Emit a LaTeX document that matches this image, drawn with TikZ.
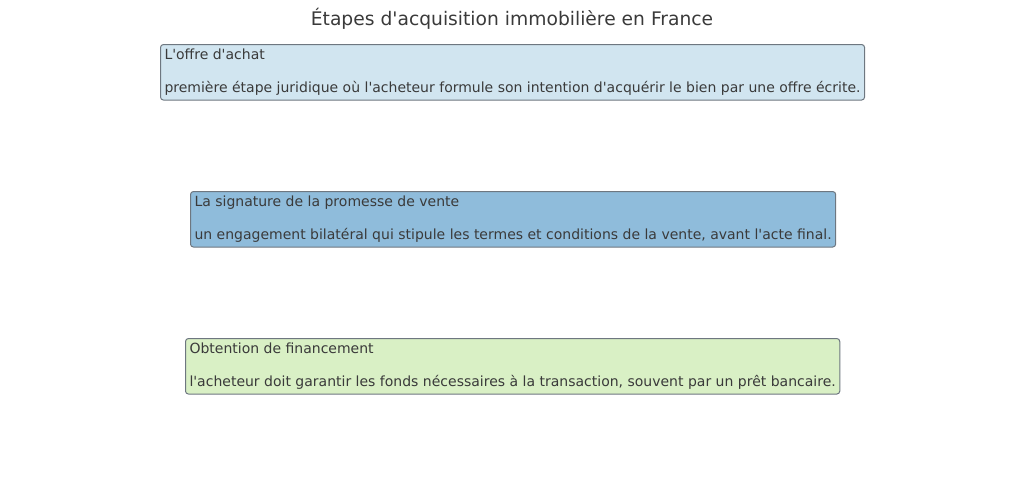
\documentclass[tikz,border=0pt]{standalone}
\usepackage{fontspec}
\setmainfont{DejaVu Sans}[Ligatures=TeXOff]
\usetikzlibrary{positioning}
\definecolor{texte}{HTML}{3A3A3A}
\definecolor{bordure}{HTML}{6E7780}
\definecolor{offre}{HTML}{D1E5F0}
\definecolor{promesse}{HTML}{8FBCDB}
\definecolor{financement}{HTML}{D9F0C5}
\tikzset{etape/.style={draw=bordure, line width=1pt, rounded corners=3pt, align=left,
  anchor=north west, inner xsep=4pt, inner ysep=4.5pt, text=texte,
  font=\fontsize{14}{17}\selectfont}}

\begin{document}
\begin{tikzpicture}[x=1pt,y=-1pt]
\useasboundingbox (0,0) rectangle (1024,477);
\node[text=texte, font=\fontsize{18.7}{20}\selectfont] (titre) at (512,19) {Étapes d'acquisition immobilière en France};
\node[etape, fill=offre] (offre) at (160,44) {L'offre d'achat\\[16pt]première étape juridique où l'acheteur formule son intention d'acquérir le bien par une offre écrite.};
\node[etape, fill=promesse] (promesse) at (190,191) {La signature de la promesse de vente\\[16pt]un engagement bilatéral qui stipule les termes et conditions de la vente, avant l'acte final.};
\node[etape, fill=financement] (financement) at (185,338) {Obtention de financement\\[16pt]l'acheteur doit garantir les fonds nécessaires à la transaction, souvent par un prêt bancaire.};
\end{tikzpicture}
\end{document}
